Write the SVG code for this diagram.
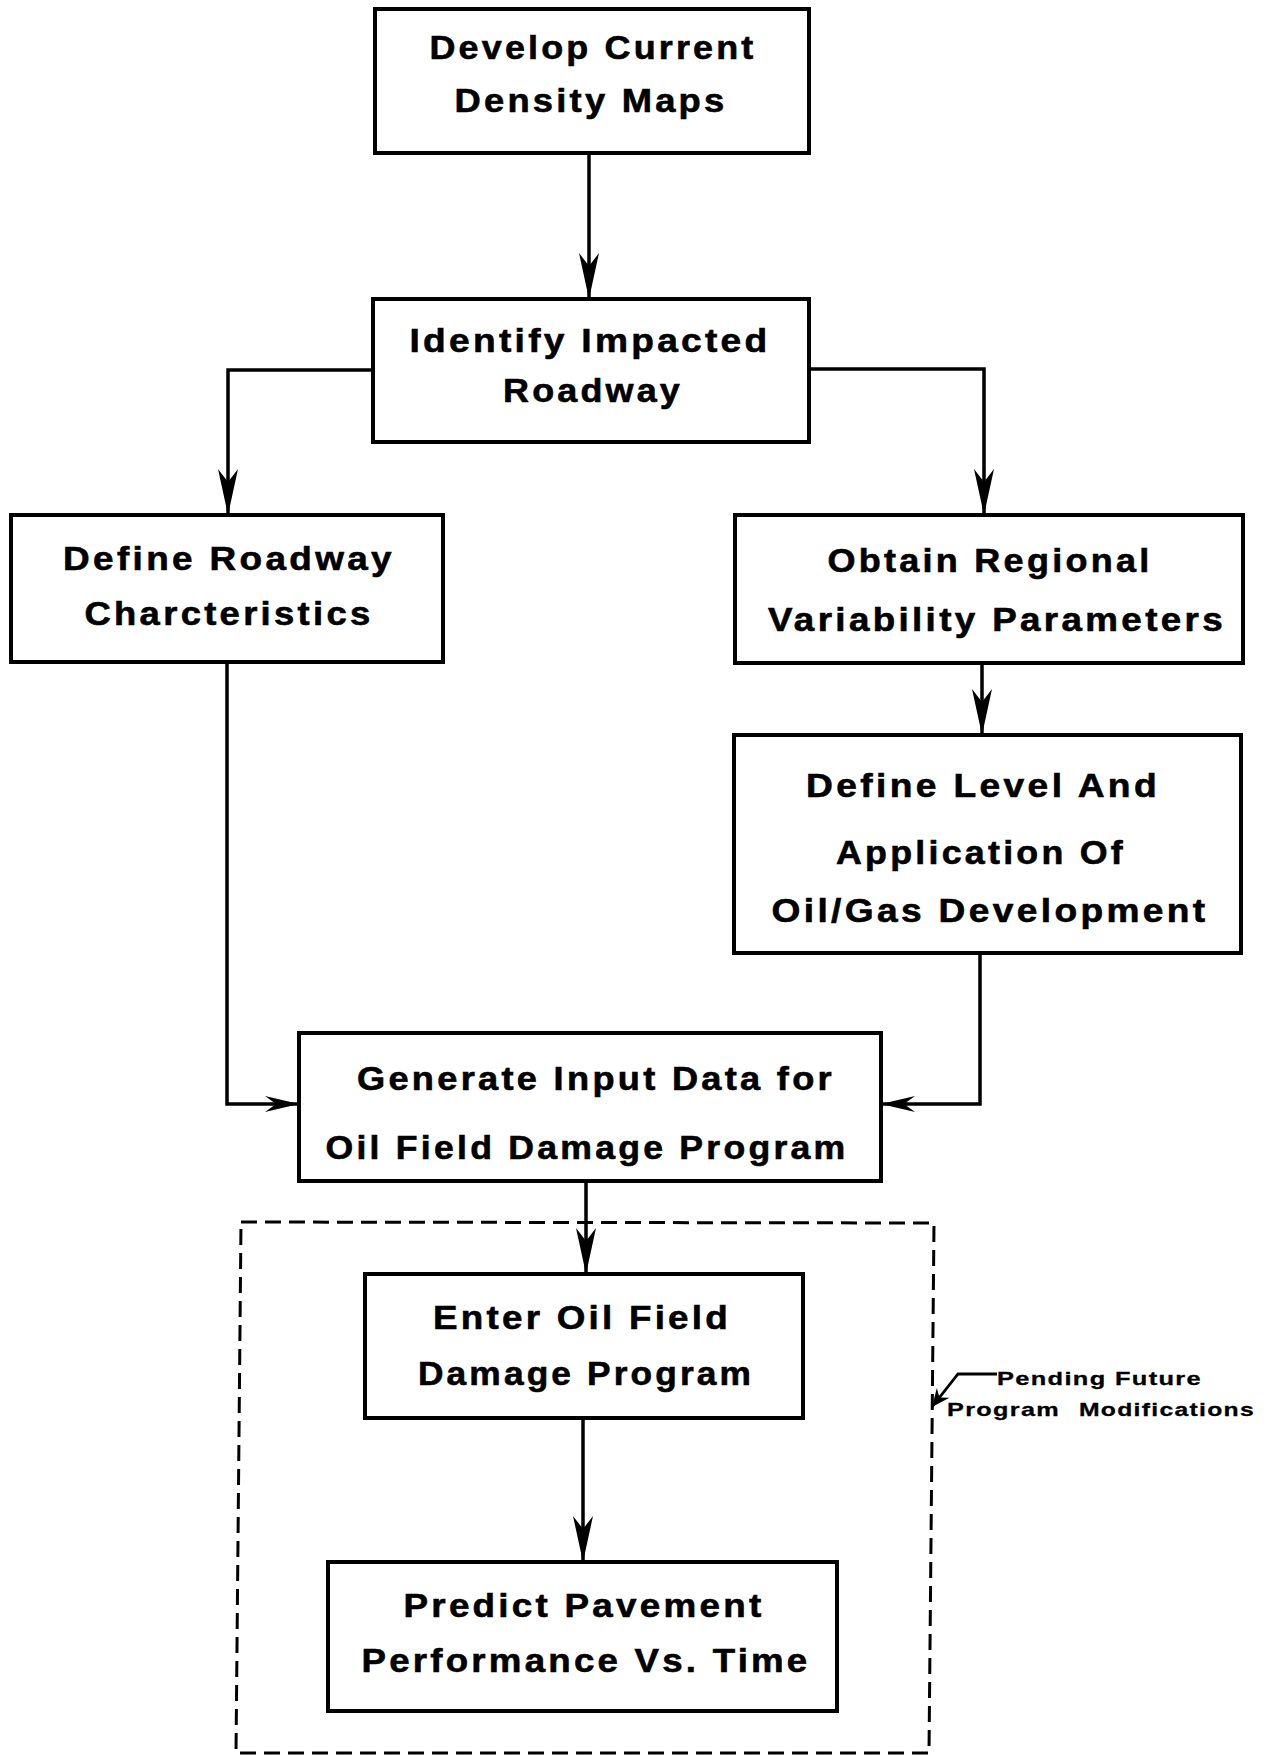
<svg xmlns="http://www.w3.org/2000/svg" width="1275" height="1756" viewBox="0 0 1275 1756">
<style>
.box{fill:#fff;stroke:#000;stroke-width:4}
.t{font-family:"Liberation Sans",Arial,sans-serif;font-weight:bold;fill:#000;stroke:#000;stroke-width:0.6;text-anchor:middle;letter-spacing:3px}
.tl{font-family:"Liberation Sans",Arial,sans-serif;font-weight:bold;fill:#000;stroke:#000;stroke-width:0.3;letter-spacing:1px}
.c{fill:none;stroke:#000;stroke-width:3.5}
.dash{fill:none;stroke:#000;stroke-width:3;stroke-dasharray:16 8}
</style>
<defs>
<marker id="ah" viewBox="-48 -11 50 22" refX="0" refY="0" markerWidth="50" markerHeight="22" markerUnits="userSpaceOnUse" orient="auto"><path d="M0,0 L-46,-10 L-33,0 L-46,10 Z" fill="#000"/></marker>
<marker id="ah2" viewBox="-36 -9 38 18" refX="0" refY="0" markerWidth="38" markerHeight="18" markerUnits="userSpaceOnUse" orient="auto"><path d="M0,0 L-34,-8 L-23,0 L-34,8 Z" fill="#000"/></marker>
<marker id="ah3" viewBox="-20 -9 22 18" refX="0" refY="0" markerWidth="22" markerHeight="18" markerUnits="userSpaceOnUse" orient="auto"><path d="M0,0 L-18,-8 L-12,0 L-18,8 Z" fill="#000"/></marker>
</defs>
<rect width="1275" height="1756" fill="#fff"/>
<g id="connectors">
<path class="c" d="M589,154 L589,299" marker-end="url(#ah)"/>
<path class="c" d="M373,370 L228,370 L228,515" marker-end="url(#ah)"/>
<path class="c" d="M809,369 L984,369 L984,515" marker-end="url(#ah)"/>
<path class="c" d="M982,663 L982,735" marker-end="url(#ah)"/>
<path class="c" d="M227,662 L227,1104 L299,1104" marker-end="url(#ah2)"/>
<path class="c" d="M980,953 L980,1104 L881,1104" marker-end="url(#ah2)"/>
<path class="c" d="M586,1181 L586,1274" marker-end="url(#ah)"/>
<path class="c" d="M583,1418 L583,1562" marker-end="url(#ah)"/>
</g>
<g id="pending-group">
<path class="dash" d="M241,1222 L934,1223 L929,1753 L236,1753 Z"/>
<path fill="none" stroke="#000" stroke-width="2.8" d="M997,1374 L958,1374 L932,1407" marker-end="url(#ah3)"/>
<text class="tl" font-size="19" x="997" y="1385" textLength="205" lengthAdjust="spacingAndGlyphs">Pending Future</text>
<text class="tl" font-size="19" y="1416"><tspan x="947" textLength="113" lengthAdjust="spacingAndGlyphs">Program</tspan> <tspan x="1079" textLength="176" lengthAdjust="spacingAndGlyphs">Modifications</tspan></text>
</g>
<g id="n1">
<rect class="box" x="375" y="9" width="434" height="144"/>
<text class="t" font-size="34" x="593" y="59" textLength="327" lengthAdjust="spacingAndGlyphs">Develop Current</text>
<text class="t" font-size="34" x="591" y="112" textLength="273" lengthAdjust="spacingAndGlyphs">Density Maps</text>
</g>
<g id="n2">
<rect class="box" x="373" y="299" width="436" height="143"/>
<text class="t" font-size="34" x="590" y="352" textLength="361" lengthAdjust="spacingAndGlyphs">Identify Impacted</text>
<text class="t" font-size="34" x="593" y="402" textLength="180" lengthAdjust="spacingAndGlyphs">Roadway</text>
</g>
<g id="n3">
<rect class="box" x="11" y="515" width="432" height="147"/>
<text class="t" font-size="33" x="229" y="570" textLength="332" lengthAdjust="spacingAndGlyphs">Define Roadway</text>
<text class="t" font-size="33" x="229" y="625" textLength="289" lengthAdjust="spacingAndGlyphs">Charcteristics</text>
</g>
<g id="n4">
<rect class="box" x="735" y="515" width="508" height="148"/>
<text class="t" font-size="33" x="990" y="572" textLength="325" lengthAdjust="spacingAndGlyphs">Obtain Regional</text>
<text class="t" font-size="33" x="997" y="631" textLength="458" lengthAdjust="spacingAndGlyphs">Variability Parameters</text>
</g>
<g id="n5">
<rect class="box" x="734" y="735" width="507" height="218"/>
<text class="t" font-size="33" x="983" y="797" textLength="354" lengthAdjust="spacingAndGlyphs">Define Level And</text>
<text class="t" font-size="33" x="981" y="864" textLength="290" lengthAdjust="spacingAndGlyphs">Application Of</text>
<text class="t" font-size="33" x="990" y="922" textLength="437" lengthAdjust="spacingAndGlyphs">Oil/Gas Development</text>
</g>
<g id="n6">
<rect class="box" x="299" y="1033" width="582" height="148"/>
<text class="t" font-size="33" x="596" y="1090" textLength="478" lengthAdjust="spacingAndGlyphs">Generate Input Data for</text>
<text class="t" font-size="33" x="587" y="1159" textLength="523" lengthAdjust="spacingAndGlyphs">Oil Field Damage Program</text>
</g>
<g id="n7">
<rect class="box" x="365" y="1274" width="438" height="144"/>
<text class="t" font-size="34" x="582" y="1329" textLength="298" lengthAdjust="spacingAndGlyphs">Enter Oil Field</text>
<text class="t" font-size="34" x="586" y="1385" textLength="336" lengthAdjust="spacingAndGlyphs">Damage Program</text>
</g>
<g id="n8">
<rect class="box" x="328" y="1562" width="509" height="149"/>
<text class="t" font-size="34" x="584" y="1617" textLength="361" lengthAdjust="spacingAndGlyphs">Predict Pavement</text>
<text class="t" font-size="34" x="586" y="1672" textLength="449" lengthAdjust="spacingAndGlyphs">Performance Vs. Time</text>
</g>
</svg>
